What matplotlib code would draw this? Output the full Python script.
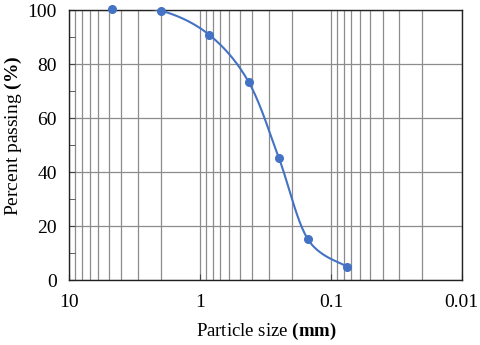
import numpy as np
import matplotlib.pyplot as plt
from matplotlib.ticker import FixedLocator, LogLocator, NullFormatter

plt.rcParams['font.family'] = 'Liberation Serif'
plt.rcParams['mathtext.fontset'] = 'custom'
plt.rcParams['mathtext.rm'] = 'Liberation Serif'
plt.rcParams['mathtext.bf'] = 'Liberation Serif:bold'

# sieve sizes (mm) and percent passing
size_mm = [4.75, 2.0, 0.85, 0.425, 0.25, 0.15, 0.075]
passing = [100.6, 99.9, 90.9, 73.4, 45.3, 15.2, 5.0]
x_ticks = [10, 1, 0.1, 0.01]
x_ticklabels = ['10', '1', '0.1', '0.01']
y_ticks = [0, 20, 40, 60, 80, 100]

blue = '#4472C4'

fig = plt.figure(figsize=(4.8, 3.45), dpi=100)
ax = fig.add_axes([0.1444, 0.1875, 0.8176, 0.7825])
ax.set_xscale('log')
ax.set_xlim(10, 0.01)
ax.set_ylim(0, 100)

ax.xaxis.set_major_locator(FixedLocator(x_ticks))
ax.set_xticklabels(x_ticklabels)
ax.xaxis.set_minor_locator(LogLocator(base=10, subs=np.arange(2, 10)))
ax.xaxis.set_minor_formatter(NullFormatter())
ax.set_yticks(y_ticks)
ax.yaxis.set_minor_locator(FixedLocator([10, 30, 50, 70, 90]))

ax.grid(True, which='major', axis='both', color='#8c8c8c', lw=0.9)
ax.grid(True, which='minor', axis='x', color='#8c8c8c', lw=0.9)
ax.tick_params(which='both', direction='in', labelsize=14)
ax.tick_params(axis='x', pad=10)
ax.tick_params(axis='y', pad=9)
ax.tick_params(which='major', length=4, color='#444444')
ax.tick_params(which='minor', length=4, color='#444444')
ax.tick_params(axis='x', which='minor', length=0)
for s in ax.spines.values():
    s.set_color('#222222')
    s.set_linewidth(1.0)
ax.set_axisbelow(True)

# Excel-like smoothed line (Catmull-Rom in screen space)
fig.canvas.draw()
pts = ax.transData.transform(np.column_stack([size_mm, passing]))
P = np.vstack([pts[0], pts, pts[-1]])
curve = []
t = np.linspace(0, 1, 40)[:, None]
for i in range(1, len(P) - 2):
    p0, p1, p2, p3 = P[i - 1], P[i], P[i + 1], P[i + 2]
    c1 = p1 + (p2 - p0) / 6
    c2 = p2 - (p3 - p1) / 6
    seg = ((1 - t) ** 3) * p1 + 3 * ((1 - t) ** 2) * t * c1 + 3 * (1 - t) * t ** 2 * c2 + t ** 3 * p2
    curve.append(seg)
curve = ax.transData.inverted().transform(np.vstack(curve))
ax.plot(curve[:, 0], curve[:, 1], color=blue, lw=1.5, zorder=3)
ax.plot(size_mm, passing, 'o', color=blue, ms=5.5, clip_on=False, zorder=4)

ax.set_xlabel('Particle size $\\mathbf{(mm)}$', fontsize=13.5, va='center')
ax.set_ylabel('Percent passing $\\mathbf{(\\%)}$', fontsize=14, va='center')
ax.xaxis.set_label_coords(0.503, -0.19)
ax.yaxis.set_label_coords(-0.142, 0.535)

fig.savefig('out.png', dpi=100)
